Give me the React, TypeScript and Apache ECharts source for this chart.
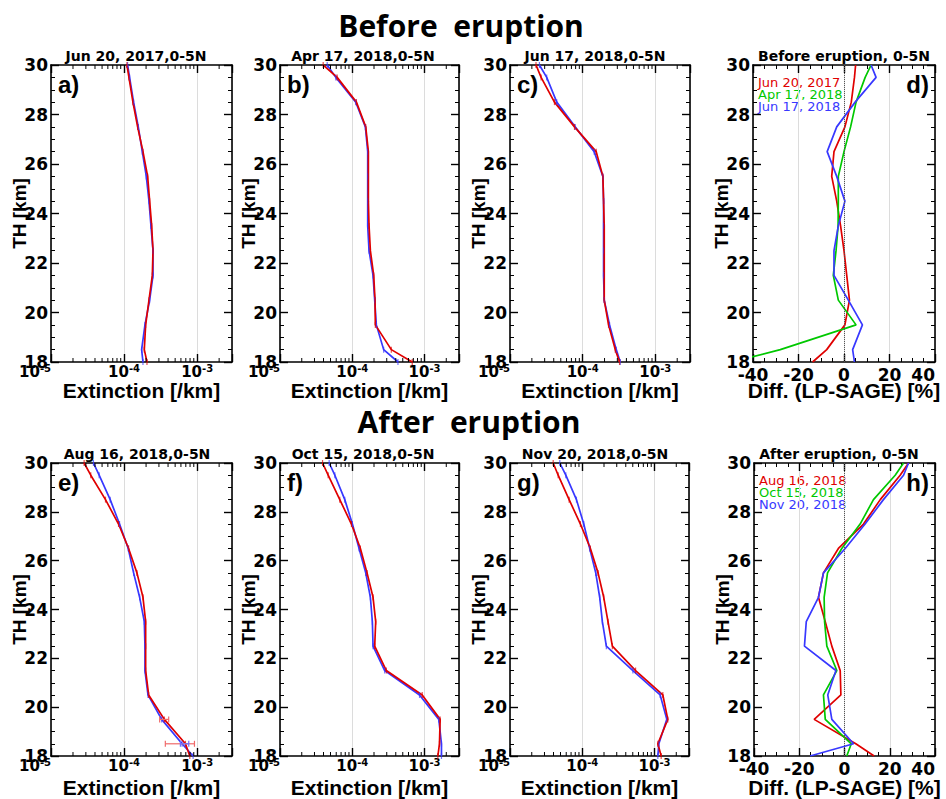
import React, { useEffect, useRef } from 'react';
import * as echarts from 'echarts';

// ---------------- data ----------------
const ALT = [30, 29.5, 28.5, 27.5, 26.5, 25.5, 24.5, 23.5, 22.5, 21.5, 20.5, 19.5, 18.5, 18];

// a) Jun 20, 2017
const A_LP = [1.117e-4, 1.19e-4, 1.35e-4, 1.565e-4, 1.776e-4, 2.015e-4, 2.193e-4, 2.335e-4, 2.489e-4, 2.489e-4, 2.239e-4, 1.932e-4, 1.739e-4, 1.814e-4];
const A_SAGE = [1.094e-4, 1.166e-4, 1.322e-4, 1.533e-4, 1.814e-4, 2.102e-4, 2.239e-4, 2.386e-4, 2.489e-4, 2.436e-4, 2.193e-4, 1.974e-4, 1.892e-4, 2.058e-4];
// b) Apr 17, 2018
const B_LP = [4.5e-5, 5.92e-5, 1.118e-4, 1.519e-4, 1.636e-4, 1.636e-4, 1.636e-4, 1.636e-4, 1.707e-4, 1.939e-4, 2.044e-4, 2.154e-4, 2.72e-4, 4.29e-4];
const B_SAGE = [3.96e-5, 6.18e-5, 1.142e-4, 1.536e-4, 1.671e-4, 1.671e-4, 1.671e-4, 1.707e-4, 1.781e-4, 1.981e-4, 2.065e-4, 2.087e-4, 3.47e-4, 6.76e-4];
// c) Jun 17, 2018
const C_LP = [2.54e-5, 3.2e-5, 4.4e-5, 7.88e-5, 1.44e-4, 1.898e-4, 1.939e-4, 1.939e-4, 1.939e-4, 1.939e-4, 1.981e-4, 2.344e-4, 2.9e-4, 3.29e-4];
const C_SAGE = [2.28e-5, 2.68e-5, 4.09e-5, 7.72e-5, 1.536e-4, 1.898e-4, 1.939e-4, 1.981e-4, 1.981e-4, 1.981e-4, 1.981e-4, 2.27e-4, 2.81e-4, 3.22e-4];
// d) differences before eruption [%]
const D_JUN20_2017 = [5.1, 4.6, 3.2, 0.4, -4.4, -5.4, -3.2, -1.5, 0, 1.2, 2.4, 0.4, -7.6, -13.8];
const D_APR17_2018 = [11.9, 9.3, 5.3, 2.9, 0, -2.5, -2.5, -2.6, -3.5, -4.7, -2.5, 5.3, -28, -49];
const D_JUN17_2018 = [11.9, 14.1, 4.9, -3.2, -7.4, -3.2, 0.4, -2.5, -4.4, -4.4, 1.9, 8.1, 3.8, 4.6];
// e) Aug 16, 2018
const E_LP = [3.81e-5, 4.56e-5, 6.46e-5, 8.67e-5, 1.141e-4, 1.35e-4, 1.633e-4, 1.892e-4, 1.932e-4, 1.932e-4, 2.125e-4, 3.27e-4, 6.22e-4, 8.81e-4];
const E_SAGE = [2.84e-5, 3.5e-5, 5.57e-5, 8.4e-5, 1.153e-4, 1.5e-4, 1.814e-4, 1.974e-4, 1.974e-4, 1.974e-4, 2.17e-4, 3.56e-4, 6.92e-4, 7.93e-4];
const E_ERR_SAGE = [[3.07e-4, 4.08e-4, 19.5], [3.67e-4, 9.19e-4, 18.5]];
const E_ERR_LP = [[5.9e-4, 7.68e-4, 18.5]];
// f) Oct 15, 2018
const F_LP = [4.79e-5, 5.74e-5, 7.88e-5, 1.005e-4, 1.243e-4, 1.536e-4, 1.781e-4, 1.898e-4, 1.939e-4, 2.81e-4, 8.53e-4, 1.577e-3, 1.716e-3, 1.716e-3];
const F_SAGE = [3.88e-5, 4.64e-5, 6.72e-5, 9.74e-5, 1.296e-4, 1.602e-4, 1.939e-4, 2.11e-4, 2.044e-4, 2.96e-4, 9.29e-4, 1.645e-3, 1.61e-3, 1.53e-3];
// g) Nov 20, 2018
const G_LP = [4.89e-5, 5.92e-5, 8.31e-5, 1.049e-4, 1.269e-4, 1.536e-4, 1.743e-4, 1.898e-4, 2.154e-4, 5.02e-4, 1.197e-3, 1.479e-3, 1.147e-3, 1.112e-3];
const G_SAGE = [3.96e-5, 4.64e-5, 6.58e-5, 9.43e-5, 1.296e-4, 1.654e-4, 1.981e-4, 2.27e-4, 2.61e-4, 5.47e-4, 1.303e-3, 1.527e-3, 1.112e-3, 1.236e-3];
// h) differences after eruption [%]
const H_AUG16_2018 = [28.3, 24.6, 15.8, 8.4, -2.7, -9.3, -11.5, -8.5, -5.6, -1.9, -1.6, -13.4, 5, 13.1];
const H_OCT15_2018 = [26.1, 22.4, 12.8, 6.9, -1.2, -7.5, -9, -8.8, -7.8, -3.4, -9.3, -8.5, 3, 1.0];
const H_NOV20_2018 = [28.3, 26.1, 17.2, 9.1, 0.3, -9.3, -11.5, -16.9, -17.7, -3.8, -7.4, -5.6, 4, -15.2];

const LOG_MINOR_TICKS = [
  2e-5, 3e-5, 4e-5, 5e-5, 6e-5, 7e-5, 8e-5, 9e-5,
  2e-4, 3e-4, 4e-4, 5e-4, 6e-4, 7e-4, 8e-4, 9e-4,
  2e-3,
];

// ---------------- style ----------------
const RED = '#e00000';
const BLUE = '#3838ff';
const GREEN = '#00c800';
const IDL = 'DejaVu Sans';
const ARIAL = 'Liberation Sans';

const TOP_ROW = { top: 65, height: 297 };
const BOT_ROW = { top: 463, height: 295 };

type Panel = {
  kind: 'ext' | 'diff';
  grid: { left: number; width: number; top: number; height: number };
  title: string;
  titleX: number;
  label: string;
  labelRight?: boolean;
  lp?: number[];
  sage?: number[];
  diffs?: { name: string; color: string; values: number[] }[];
};

const PANELS: Panel[] = [
  { kind: 'ext', grid: { left: 51, width: 181, ...TOP_ROW }, title: 'Jun 20, 2017,0-5N', titleX: 136, label: 'a)', lp: A_LP, sage: A_SAGE },
  { kind: 'ext', grid: { left: 280, width: 179, ...TOP_ROW }, title: 'Apr 17, 2018,0-5N', titleX: 363, label: 'b)', lp: B_LP, sage: B_SAGE },
  { kind: 'ext', grid: { left: 510, width: 180, ...TOP_ROW }, title: 'Jun 17, 2018,0-5N', titleX: 595, label: 'c)', lp: C_LP, sage: C_SAGE },
  {
    kind: 'diff', grid: { left: 753, width: 182, ...TOP_ROW }, title: 'Before eruption, 0-5N', titleX: 844, label: 'd)', labelRight: true,
    diffs: [
      { name: 'Jun 20, 2017', color: RED, values: D_JUN20_2017 },
      { name: 'Apr 17, 2018', color: GREEN, values: D_APR17_2018 },
      { name: 'Jun 17, 2018', color: BLUE, values: D_JUN17_2018 },
    ],
  },
  { kind: 'ext', grid: { left: 51, width: 181, ...BOT_ROW }, title: 'Aug 16, 2018,0-5N', titleX: 137, label: 'e)', lp: E_LP, sage: E_SAGE },
  { kind: 'ext', grid: { left: 280, width: 179, ...BOT_ROW }, title: 'Oct 15, 2018,0-5N', titleX: 363, label: 'f)', lp: F_LP, sage: F_SAGE },
  { kind: 'ext', grid: { left: 510, width: 179, ...BOT_ROW }, title: 'Nov 20, 2018,0-5N', titleX: 595, label: 'g)', lp: G_LP, sage: G_SAGE },
  {
    kind: 'diff', grid: { left: 754, width: 181, ...BOT_ROW }, title: 'After eruption, 0-5N', titleX: 839, label: 'h)', labelRight: true,
    diffs: [
      { name: 'Aug 16, 2018', color: RED, values: H_AUG16_2018 },
      { name: 'Oct 15, 2018', color: GREEN, values: H_OCT15_2018 },
      { name: 'Nov 20, 2018', color: BLUE, values: H_NOV20_2018 },
    ],
  },
];

function buildOption() {
  const grid: any[] = [];
  const xAxis: any[] = [];
  const yAxis: any[] = [];
  const series: any[] = [];
  const graphic: any[] = [];

  const axisLine = { show: true, onZero: false, lineStyle: { color: '#000', width: 1.6 } };
  const axisTick = { show: true, inside: true, length: 8, lineStyle: { color: '#000', width: 1.4 } };
  const labelFont = { fontFamily: IDL, fontWeight: 'bold', fontSize: 17, color: '#000' };
  const nameFont = { fontFamily: ARIAL, fontWeight: 'bold', fontSize: 21, color: '#000' };

  PANELS.forEach((p, i) => {
    grid.push({ ...p.grid, containLabel: false, show: false });
    const isTop = i < 4;
    const xi = 2 * i;
    const yi = 2 * i;
    if (p.kind === 'ext') {
      const common = { type: 'log', logBase: 10, min: 1e-5, max: 3e-3, gridIndex: i };
      xAxis.push({
        ...common,
        position: 'bottom',
        axisLine,
        axisTick,
        splitLine: { show: true, lineStyle: { color: '#dcdcdc', width: 1 } },
        axisLabel: {
          margin: 1,
          alignMinLabel: 'right',
          formatter: (v: number) => {
            const e = Math.log10(v);
            if (Math.abs(e - Math.round(e)) > 1e-6) return '';
            return `{b|10}{s|${Math.round(e)}}`;
          },
          rich: {
            b: { fontFamily: IDL, fontWeight: 'bold', fontSize: 15, color: '#000', lineHeight: 16, verticalAlign: 'bottom' },
            s: { fontFamily: IDL, fontWeight: 'bold', fontSize: 10, color: '#000', lineHeight: 16, verticalAlign: 'top' },
          },
        },
        name: 'Extinction [/km]',
        nameLocation: 'middle',
        nameGap: isTop ? 18 : 21,
        nameMoveOverlap: false,
        nameTextStyle: nameFont,
      });
      xAxis.push({
        ...common,
        position: 'top',
        axisLine,
        axisTick,
        axisLabel: { show: false },
        splitLine: { show: false },
      });
    } else {
      const common = { type: 'value', min: -40, max: 40, interval: 20, gridIndex: i };
      xAxis.push({
        ...common,
        position: 'bottom',
        axisLine,
        axisTick,
        minorTick: { show: true, splitNumber: 4, length: 4, lineStyle: { color: '#000', width: 1 } },
        splitLine: { show: true, lineStyle: { color: '#dcdcdc', width: 1 } },
        axisLabel: { ...labelFont, margin: 4, alignMaxLabel: 'right' },
        name: 'Diff. (LP-SAGE) [%]',
        nameLocation: 'middle',
        nameGap: isTop ? 18 : 21,
        nameMoveOverlap: false,
        nameTextStyle: nameFont,
      });
      xAxis.push({
        ...common,
        position: 'top',
        axisLine,
        axisTick,
        minorTick: { show: true, splitNumber: 4, length: 4, lineStyle: { color: '#000', width: 1 } },
        axisLabel: { show: false },
        splitLine: { show: false },
      });
    }
    const yCommon = {
      type: 'value', min: 18, max: 30, interval: 2, gridIndex: i,
      axisLine, axisTick,
      minorTick: { show: true, splitNumber: 4, length: 4, lineStyle: { color: '#000', width: 1 } },
      splitLine: { show: false },
    };
    yAxis.push({
      ...yCommon,
      position: 'left',
      axisLabel: { ...labelFont, margin: 3 },
      name: 'TH [km]',
      nameLocation: 'middle',
      nameGap: 22,
      nameMoveOverlap: false,
      nameTextStyle: { fontFamily: ARIAL, fontWeight: 'bold', fontSize: 19, color: '#000' },
    });
    yAxis.push({ ...yCommon, position: 'right', axisLabel: { show: false } });

    if (p.kind === 'ext') {
      const mk = (vals: number[], color: string, name: string) => ({
        type: 'line',
        name,
        xAxisIndex: xi,
        yAxisIndex: yi,
        data: ALT.map((h, k) => [vals[k], h]),
        lineStyle: { color, width: 1.7 },
        itemStyle: { color, opacity: 0.7 },
        symbol: 'rect',
        symbolSize: [1.2, 6],
        showSymbol: true,
        silent: true,
        z: 3,
      });
      series.push(mk(p.lp!, BLUE, `${p.label} LP`));
      series.push(mk(p.sage!, RED, `${p.label} SAGE`));
      series.push({
        type: 'custom',
        name: `${p.label} minor`,
        xAxisIndex: xi,
        yAxisIndex: yi,
        data: LOG_MINOR_TICKS.map((v) => [v, 24]),
        encode: { x: 0, y: 1 },
        silent: true,
        z: 5,
        renderItem: (_params: any, api: any) => {
          const v = api.value(0);
          const b = api.coord([v, 18]);
          const t = api.coord([v, 30]);
          return {
            type: 'group',
            children: [
              { type: 'line', shape: { x1: b[0], y1: b[1], x2: b[0], y2: b[1] - 4 }, style: { stroke: '#000', lineWidth: 1 } },
              { type: 'line', shape: { x1: t[0], y1: t[1], x2: t[0], y2: t[1] + 4 }, style: { stroke: '#000', lineWidth: 1 } },
            ],
          };
        },
      });
    } else {
      p.diffs!.forEach((d, k) => {
        series.push({
          type: 'line',
          name: `${p.label} ${d.name}`,
          xAxisIndex: xi,
          yAxisIndex: yi,
          data: ALT.map((h, j) => [d.values[j], h]),
          lineStyle: { color: d.color, width: 1.7 },
          itemStyle: { color: d.color },
          showSymbol: false,
          symbol: 'none',
          silent: true,
          z: 3,
          markLine: k === 0 ? {
            silent: true,
            symbol: ['none', 'none'],
            label: { show: false },
            lineStyle: { color: '#555', type: 'dotted', width: 1 },
            data: [{ xAxis: 0 }],
          } : undefined,
        });
        graphic.push({
          type: 'text',
          x: p.grid.left + 5,
          y: p.grid.top + 17 + 12 * k,
          style: { text: d.name, fill: d.color, font: `13px "${IDL}"`, align: 'left', verticalAlign: 'middle' },
        });
      });
    }

    graphic.push({
      type: 'text',
      x: p.titleX,
      y: p.grid.top - 9,
      style: { text: p.title, fill: '#000', font: `bold 14px "${IDL}"`, align: 'center', verticalAlign: 'middle' },
    });
    graphic.push({
      type: 'text',
      x: p.labelRight ? p.grid.left + p.grid.width - 6 : p.grid.left + 7,
      y: p.grid.top + 19,
      style: { text: p.label, fill: '#000', font: `bold 24px "${ARIAL}"`, align: p.labelRight ? 'right' : 'left', verticalAlign: 'middle' },
    });
  });

  // error bars in panel e)
  const errSeries = (data: number[][], color: string, name: string) => ({
    type: 'custom',
    name,
    xAxisIndex: 8,
    yAxisIndex: 8,
    data,
    encode: { x: [0, 1], y: 2 },
    silent: true,
    z: 4,
    renderItem: (_params: any, api: any) => {
      const lo = api.coord([api.value(0), api.value(2)]);
      const hi = api.coord([api.value(1), api.value(2)]);
      const st = { stroke: color, lineWidth: 1.2 };
      return {
        type: 'group',
        children: [
          { type: 'line', shape: { x1: lo[0], y1: lo[1], x2: hi[0], y2: hi[1] }, style: st },
          { type: 'line', shape: { x1: lo[0], y1: lo[1] - 3, x2: lo[0], y2: lo[1] + 3 }, style: st },
          { type: 'line', shape: { x1: hi[0], y1: hi[1] - 3, x2: hi[0], y2: hi[1] + 3 }, style: st },
        ],
      };
    },
  });
  series.push(errSeries(E_ERR_SAGE, '#f06a6a', 'e) SAGE err'));
  series.push(errSeries(E_ERR_LP, '#6f6fff', 'e) LP err'));

  graphic.push({
    type: 'text', x: 461, y: 25,
    style: { text: 'Before  eruption', fill: '#000', font: 'bold 30px "Open Sans"', align: 'center', verticalAlign: 'middle' },
  });
  graphic.push({
    type: 'text', x: 469, y: 421,
    style: { text: 'After  eruption', fill: '#000', font: 'bold 30px "Open Sans"', align: 'center', verticalAlign: 'middle' },
  });

  return {
    animation: false,
    backgroundColor: '#fff',
    grid,
    xAxis,
    yAxis,
    series,
    graphic,
  };
}

export default function App() {
  const ref = useRef<HTMLDivElement>(null);
  useEffect(() => {
    if (!ref.current) return;
    const chart = echarts.init(ref.current, null, { renderer: 'svg' });
    chart.setOption(buildOption() as any);
    return () => chart.dispose();
  }, []);
  return (
    <div
      ref={ref}
      style={{ position: 'fixed', left: 0, top: 0, width: 946, height: 799, background: '#fff' }}
    />
  );
}
